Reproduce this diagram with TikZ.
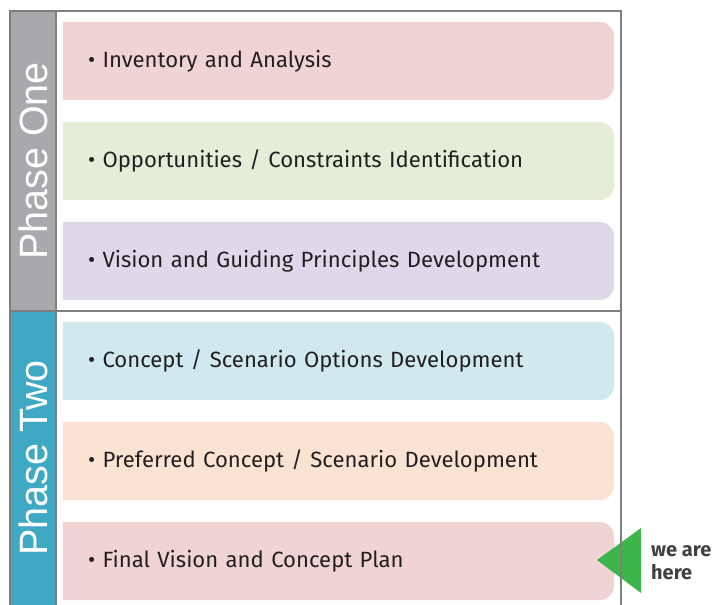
\documentclass[tikz,border=0pt]{standalone}
\usepackage{fontspec}
\setmainfont{Fira Sans}
\newfontfamily\phasefont{Liberation Sans}
\usetikzlibrary{backgrounds}

\definecolor{ink}{HTML}{231F20}
\definecolor{framegray}{HTML}{7F7F7F}
\definecolor{phaseone}{HTML}{A7A9AC}
\definecolor{phasetwo}{HTML}{3FA9C4}
\definecolor{pinkbox}{HTML}{F0D3D3}
\definecolor{greenbox}{HTML}{E4EDD8}
\definecolor{lilacbox}{HTML}{DFD8E8}
\definecolor{bluebox}{HTML}{D0E9EE}
\definecolor{peachbox}{HTML}{FBE3D4}
\definecolor{marker}{HTML}{3DB54A}
\definecolor{hereink}{HTML}{414042}

\begin{document}
\begin{tikzpicture}[x=1pt,y=-1pt,font=\fontsize{22.1}{26}\selectfont]
    \tikzset{box/.style={
      text width=501pt, inner xsep=25pt, minimum height=78pt, align=left, text=ink
    }}
    \tikzset{phase/.style={
      rotate=90, minimum width=#1, minimum height=46pt, inner sep=0pt,
      text=white, font=\phasefont\fontsize{39.5}{42}\selectfont
    }}
    \tikzset{frame/.style={draw=framegray, line width=1.3pt}}
    \useasboundingbox (0,0) rectangle (713,605);

    % Phase columns
    \node[phase=300pt] (one) at (33,161) {Phase One};
    \node[phase=294pt] (two) at (33,458) {Phase Two};

    % Steps
    \node[box] (inv)   at (338.5,61)  {• Inventory and Analysis};
    \node[box] (opp)   at (338.5,161) {• Opportunities / Constraints Identification};
    \node[box] (vis)   at (338.5,261) {• Vision and Guiding Principles Development};
    \node[box] (opt)   at (338.5,361) {• Concept / Scenario Options Development};
    \node[box] (pref)  at (338.5,461) {• Preferred Concept / Scenario Development};
    \node[box] (final) at (338.5,561) {• Final Vision and Concept Plan};

    % Marker
    \node[font=\bfseries\fontsize{20}{23}\selectfont, text=hereink, align=left,
          anchor=west, inner sep=0pt] (here) at (651,563) {we are\\here};
    \coordinate (tip) at (597,560);
    \fill[marker] (tip) -- (641,528) -- (641,593) -- cycle;

    \begin{scope}[on background layer]
      \fill[phaseone] (one.south west) rectangle (one.north east);
      \fill[phasetwo] (two.south west) rectangle (two.north east);
      \foreach \n/\c in {inv/pinkbox, opp/greenbox, vis/lilacbox,
                         opt/bluebox, pref/peachbox, final/pinkbox}
        \fill[\c] (\n.north) [rounded corners=15pt] -- (\n.north east)
          -- (\n.south east) -- (\n.south) [sharp corners] -- (\n.south west)
          -- (\n.north west) -- cycle;
    \end{scope}

    % Frame
    \draw[frame] (10,615) -- (10,11) -- (621,11) -- (621,615);
    \draw[frame] (10,311) -- (621,311);
    \draw[frame] (56,11) -- (56,615);
\end{tikzpicture}
\end{document}
